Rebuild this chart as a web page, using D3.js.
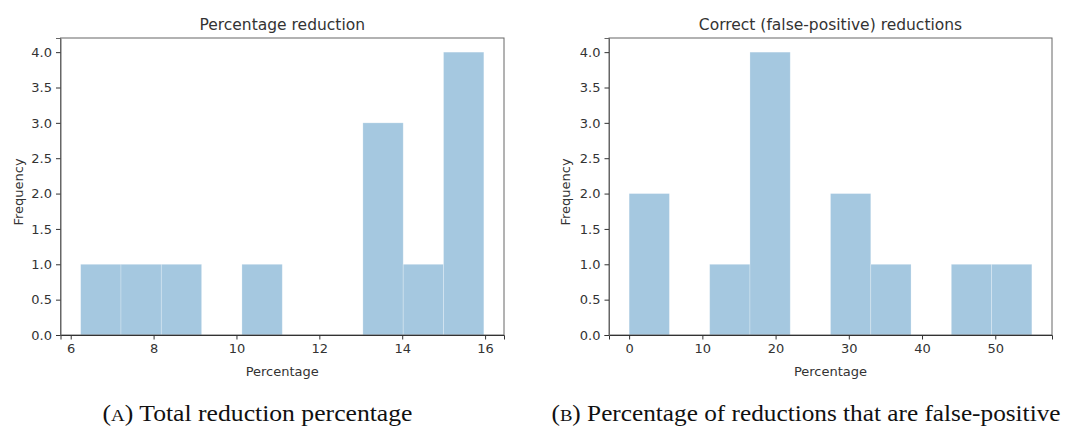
<!DOCTYPE html>
<html>
<head>
<meta charset="utf-8">
<script src="https://cdn.jsdelivr.net/npm/d3@7"></script>
<style>
  html, body { margin: 0; padding: 0; background: #fff; }
  svg { display: block; }
  .tick text { font-family: "DejaVu Sans", sans-serif; font-size: 13px; fill: #333; }
  .tick line { stroke: #333; }
</style>
</head>
<body>
<svg id="chart" width="1078" height="429"></svg>
<script>
// Histogram A: total reduction percentage (10 equal-width bins between min and max)
const reductionRange = [6.24, 15.97];
const reductionCounts = [1, 1, 1, 0, 1, 0, 0, 3, 1, 4];
const reductionTicks = [6, 8, 10, 12, 14, 16];

// Histogram B: share of reductions that are false-positive
const falsePosRange = [0, 55];
const falsePosCounts = [2, 0, 1, 4, 0, 2, 1, 0, 1, 1];
const falsePosTicks = [0, 10, 20, 30, 40, 50];

const freqTicks = [0, 0.5, 1, 1.5, 2, 2.5, 3, 3.5, 4];

const panels = [
  { title: "Percentage reduction", range: reductionRange, counts: reductionCounts, ticks: reductionTicks,
    left: 60.5, right: 504, ylabelX: 22.5,
    caption: ["(", "A", ") Total reduction percentage"], capX: 257.5, capLen: 310 },
  { title: "Correct (false-positive) reductions", range: falsePosRange, counts: falsePosCounts, ticks: falsePosTicks,
    left: 609, right: 1052, ylabelX: 570,
    caption: ["(", "B", ") Percentage of reductions that are false-positive"], capX: 806, capLen: 509 }
];

const plotTop = 38, plotBottom = 335;
const svg = d3.select("#chart");

panels.forEach(p => {
  const [lo, hi] = p.range;
  const pad = (hi - lo) * 0.05;
  const x = d3.scaleLinear().domain([lo - pad, hi + pad]).range([p.left, p.right]);
  const y = d3.scaleLinear().domain([0, 4.2]).range([plotBottom, plotTop]);
  const step = (hi - lo) / p.counts.length;
  const bins = p.counts.map((c, i) => ({ x0: lo + i * step, x1: lo + (i + 1) * step, c }));

  const g = svg.append("g");

  g.selectAll("rect.bar").data(bins.filter(b => b.c > 0)).join("rect")
    .attr("class", "bar")
    .attr("x", d => x(d.x0))
    .attr("width", d => x(d.x1) - x(d.x0))
    .attr("y", d => y(d.c))
    .attr("height", d => y(0) - y(d.c))
    .attr("fill", "#a5c8e0")
    .attr("stroke", "#ffffff")
    .attr("stroke-opacity", 0.3)
    .attr("stroke-width", 0.8);

  // frame
  g.append("rect")
    .attr("x", p.left).attr("y", plotTop)
    .attr("width", p.right - p.left).attr("height", plotBottom - plotTop)
    .attr("fill", "none").attr("stroke", "#666").attr("stroke-width", 1);

  const xAxis = g.append("g").attr("transform", `translate(0,${plotBottom})`)
    .call(d3.axisBottom(x).tickValues(p.ticks).tickFormat(d3.format("d")).tickSize(4.5).tickPadding(4));
  xAxis.select(".domain").attr("stroke", "#333");

  const yAxis = g.append("g").attr("transform", `translate(${p.left},0)`)
    .call(d3.axisLeft(y).tickValues(freqTicks).tickFormat(d3.format(".1f")).tickSize(4.5).tickPadding(4));
  yAxis.select(".domain").attr("stroke", "#666");

  g.append("text")
    .attr("x", (p.left + p.right) / 2).attr("y", 30)
    .attr("text-anchor", "middle")
    .style("font-family", "DejaVu Sans, sans-serif").style("font-size", "15.5px").attr("fill", "#333")
    .text(p.title);

  g.append("text")
    .attr("x", (p.left + p.right) / 2).attr("y", 375.5)
    .attr("text-anchor", "middle")
    .style("font-family", "DejaVu Sans, sans-serif").style("font-size", "13px").attr("fill", "#333")
    .text("Percentage");

  g.append("text")
    .attr("transform", `translate(${p.ylabelX},192) rotate(-90)`)
    .attr("text-anchor", "middle")
    .style("font-family", "DejaVu Sans, sans-serif").style("font-size", "13px").attr("fill", "#333")
    .text("Frequency");

  const cap = g.append("text")
    .attr("x", p.capX - p.capLen / 2).attr("y", 421)
    .attr("textLength", p.capLen).attr("lengthAdjust", "spacingAndGlyphs")
    .style("font-family", "'Liberation Serif', serif").style("font-size", "23px").attr("fill", "#111");
  cap.append("tspan").text(p.caption[0]);
  cap.append("tspan").style("font-size", "17px").text(p.caption[1]);
  cap.append("tspan").text(p.caption[2]);
});
</script>
</body>
</html>
